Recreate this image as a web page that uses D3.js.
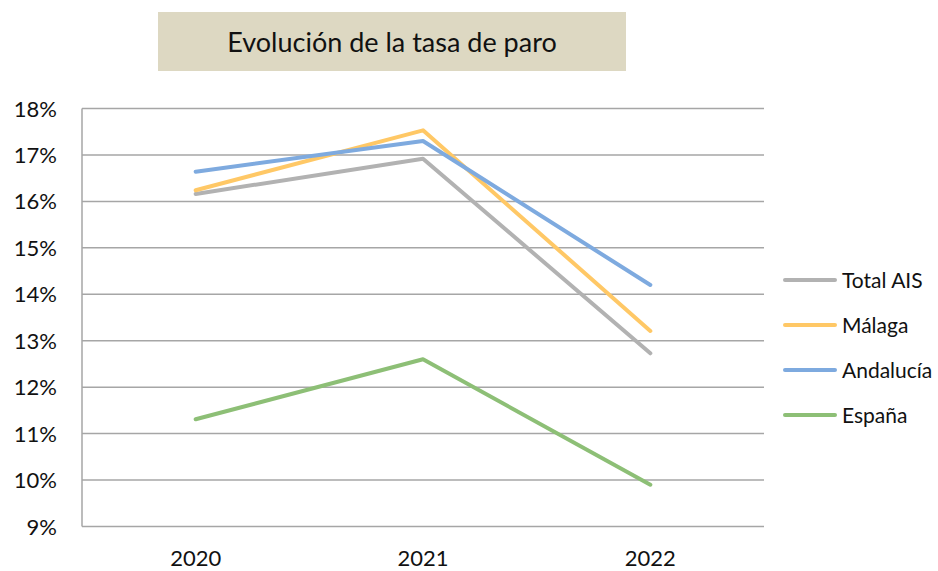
<!DOCTYPE html>
<html>
<head>
  <meta charset="utf-8">
  <title>Evolución de la tasa de paro</title>
  <script src="https://d3js.org/d3.v7.min.js"></script>
  <style>
    body { margin: 0; background: #fff; }
    text { font-family: Lato, "Open Sans", sans-serif; fill: #111; }
  </style>
</head>
<body>
  <div id="chart"></div>
  <script>
  // data
  var years = ["2020", "2021", "2022"];
  var totalAIS = [16.16, 16.92, 12.73];
  var malaga = [16.24, 17.53, 13.21];
  var andalucia = [16.64, 17.30, 14.20];
  var espana = [11.31, 12.60, 9.90];
  var seriesNames = ["Total AIS", "Málaga", "Andalucía", "España"];
  var yTicks = [9, 10, 11, 12, 13, 14, 15, 16, 17, 18];

  var colors = ["#b2b2b2", "#ffc866", "#7eaadf", "#8dbf76"];
  var series = [totalAIS, malaga, andalucia, espana].map(function(v, i) {
    return { name: seriesNames[i], values: v, color: colors[i] };
  });

  var width = 938, height = 571;
  var svg = d3.select("#chart").append("svg").attr("width", width).attr("height", height);

  // title box
  svg.append("rect").attr("x", 158).attr("y", 12).attr("width", 468).attr("height", 59)
    .attr("fill", "#ddd8c2");
  svg.append("text").attr("x", 392).attr("y", 52).attr("text-anchor", "middle")
    .style("font-size", "27px").text("Evolución de la tasa de paro");

  var plotLeft = 82, plotRight = 764, plotTop = 108.5, plotBottom = 526.5;

  var x = d3.scaleBand().domain(years).range([plotLeft, plotRight]);
  var y = d3.scaleLinear().domain([9, 18]).range([plotBottom, plotTop]);

  // grid
  svg.append("g").selectAll("line").data(yTicks).enter().append("line")
    .attr("x1", plotLeft).attr("x2", plotRight)
    .attr("y1", function(d) { return y(d); }).attr("y2", function(d) { return y(d); })
    .attr("stroke", "#a6a6a6").attr("stroke-width", 1.5);
  svg.append("line").attr("x1", plotLeft).attr("x2", plotLeft).attr("y1", plotTop).attr("y2", plotBottom)
    .attr("stroke", "#a6a6a6").attr("stroke-width", 1.5);

  // y labels
  svg.append("g").selectAll("text").data(yTicks).enter().append("text")
    .attr("x", 57).attr("y", function(d) { return y(d) + 8; })
    .attr("text-anchor", "end").style("font-size", "22px")
    .text(function(d) { return d + "%"; });

  // x labels
  svg.append("g").selectAll("text").data(years).enter().append("text")
    .attr("x", function(d) { return x(d) + x.bandwidth() / 2; }).attr("y", 566)
    .attr("text-anchor", "middle").style("font-size", "22px")
    .text(function(d) { return d; });

  // lines
  var line = d3.line()
    .x(function(d, i) { return x(years[i]) + x.bandwidth() / 2; })
    .y(function(d) { return y(d); });

  svg.append("g").selectAll("path").data(series).enter().append("path")
    .attr("d", function(d) { return line(d.values); })
    .attr("fill", "none").attr("stroke", function(d) { return d.color; })
    .attr("stroke-width", 4).attr("stroke-linecap", "round").attr("stroke-linejoin", "round");

  // legend
  var lg = svg.append("g").selectAll("g").data(series).enter().append("g")
    .attr("transform", function(d, i) { return "translate(783," + (280 + i * 45) + ")"; });
  lg.append("line").attr("x1", 2).attr("x2", 52).attr("y1", 0).attr("y2", 0)
    .attr("stroke", function(d) { return d.color; }).attr("stroke-width", 4)
    .attr("stroke-linecap", "round");
  lg.append("text").attr("x", 59).attr("y", 8).style("font-size", "21px")
    .text(function(d) { return d.name; });
  </script>
</body>
</html>
